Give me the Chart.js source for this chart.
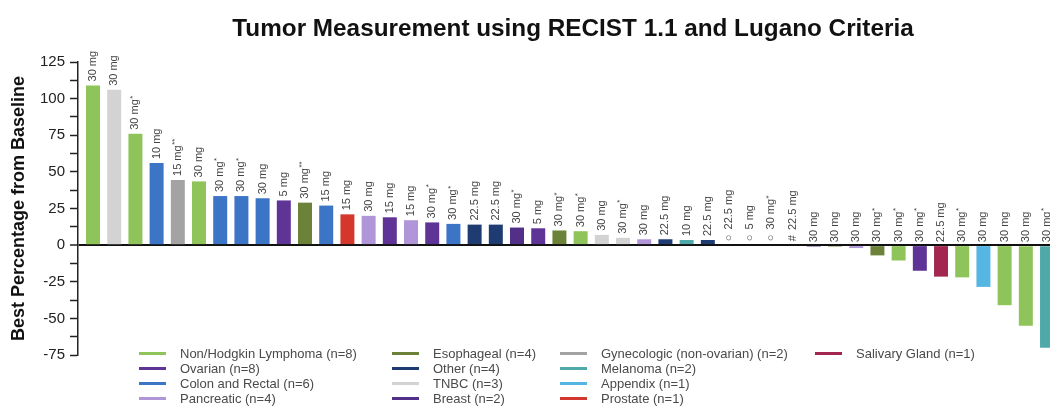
<!DOCTYPE html>
<html>
<head>
<meta charset="utf-8">
<script src="https://cdn.jsdelivr.net/npm/chart.js@4/dist/chart.umd.min.js"></script>
<style>
html,body{margin:0;padding:0;background:#fff;overflow:hidden;}
#wrap{position:relative;width:1050px;height:406px;font-family:"Liberation Sans",Arial,Helvetica,sans-serif;}
#chart{position:absolute;left:0;top:0;}
#title{position:absolute;left:573px;top:16px;transform:translateX(-50%);white-space:nowrap;font-weight:bold;font-size:24.3px;line-height:24px;color:#111;}
#legend{position:absolute;left:139px;top:346px;display:grid;grid-auto-flow:column;grid-template-rows:repeat(4,15px);grid-template-columns:253px 168px 255px auto;font-size:13px;line-height:15px;color:#4a4a4a;}
.item{display:flex;align-items:center;white-space:nowrap;}
.sw{width:27px;height:3px;margin-right:14px;flex:none;}
</style>
</head>
<body>
<div id="wrap">
  <canvas id="chart" width="1050" height="406"></canvas>
  <div id="title">Tumor Measurement using RECIST 1.1 and Lugano Criteria</div>
  <div id="legend"></div>
</div>
<script>
// ---- data ----
const categories = [
  "Non/Hodgkin Lymphoma", "Ovarian", "Colon and Rectal", "Pancreatic",
  "Esophageal", "Other", "TNBC", "Breast",
  "Gynecologic (non-ovarian)", "Melanoma", "Appendix", "Prostate",
  "Salivary Gland"
];
const legendCounts = [8, 8, 6, 4, 4, 4, 3, 2, 2, 2, 1, 1, 1];
const categoryColors = [
  "#8fc45a", "#5e3596", "#3c74c6", "#b095d8",
  "#6d8239", "#1e3b72", "#d3d3d3", "#52308a",
  "#a3a3a3", "#4fa9a9", "#55b5e3", "#d4382c",
  "#a32650"
];
// category index of each patient bar (left to right)
const barCategory = [
  0, 6, 0, 2, 8, 0, 2, 2, 2, 1,
  4, 2, 11, 3, 1, 3, 1, 2, 5, 5,
  7, 1, 4, 0, 6, 6, 3, 5, 9, 5,
  1, 1, 7, 8, 1, 4, 3, 4, 0, 1,
  12, 0, 10, 0, 0, 9
];
// best percentage change from baseline
const values = [
  109, 106, 76, 56, 44.5, 43.5, 33.5, 33.5, 32, 30.5,
  29, 27, 21, 20, 19, 17, 15.5, 14.5, 14, 14,
  12, 11.5, 10, 9.5, 7, 5, 4, 4, 3.5, 3.5,
  0, 0, 0, 0, -1, -1, -2, -7, -10.5, -17.5,
  -21.5, -22, -28.5, -41, -55, -70
];
const doses = [
  "30 mg", "30 mg", "30 mg*", "10 mg", "15 mg**", "30 mg", "30 mg*", "30 mg*", "30 mg", "5 mg",
  "30 mg**", "15 mg", "15 mg", "30 mg", "15 mg", "15 mg", "30 mg*", "30 mg*", "22.5 mg", "22.5 mg",
  "30 mg*", "5 mg", "30 mg*", "30 mg*", "30 mg", "30 mg*", "30 mg", "22.5 mg", "10 mg", "22.5 mg",
  "22.5 mg", "5 mg", "30 mg*", "22.5 mg", "30 mg", "30 mg", "30 mg", "30 mg*", "30 mg*", "30 mg*",
  "22.5 mg", "30 mg*", "30 mg", "30 mg", "30 mg", "30 mg*"
];
const markers = [
  "", "", "", "", "", "", "", "", "", "",
  "", "", "", "", "", "", "", "", "", "",
  "", "", "", "", "", "", "", "", "", "",
  "○", "○", "○", "#", "", "", "", "", "", "",
  "", "", "", "", "", ""
];
const yTickLabels = [125, 100, 75, 50, 25, 0, -25, -50, -75];
const yMin = -75, yMax = 125;

// ---- legend (HTML) ----
const legendEl = document.getElementById('legend');
categories.forEach((c, i) => {
  const d = document.createElement('div');
  d.className = 'item';
  const s = document.createElement('span');
  s.className = 'sw';
  s.style.background = categoryColors[i];
  const t = document.createElement('span');
  t.textContent = c + ' (n=' + legendCounts[i] + ')';
  d.appendChild(s); d.appendChild(t);
  legendEl.appendChild(d);
});

// ---- dose labels plugin ----
const FONT = '"Liberation Sans", Arial, Helvetica, sans-serif';
const doseLabels = {
  id: 'doseLabels',
  afterDatasetsDraw(chart) {
    const ctx = chart.ctx;
    const meta = chart.getDatasetMeta(0);
    ctx.save();
    ctx.fillStyle = '#444';
    ctx.textBaseline = 'middle';
    ctx.textAlign = 'left';
    meta.data.forEach((bar, i) => {
      const top = Math.min(bar.y, bar.base);
      ctx.save();
      ctx.translate(bar.x, top - 4);
      ctx.rotate(-Math.PI / 2);
      let off = 0;
      ctx.font = '11px ' + FONT;
      if (markers[i]) {
        ctx.fillText(markers[i], 0, 0);
        off = ctx.measureText(markers[i]).width + 5;
      }
      const m = doses[i].match(/^(.*?)(\**)$/);
      ctx.fillText(m[1], off, 0);
      if (m[2]) {
        const w = ctx.measureText(m[1]).width;
        ctx.font = '8px ' + FONT;
        ctx.fillText(m[2], off + w + 0.5, -3);
      }
      ctx.restore();
    });
    ctx.restore();
  }
};

const ctx = document.getElementById('chart').getContext('2d');
new Chart(ctx, {
  type: 'bar',
  data: {
    datasets: [{
      data: values.map((v, i) => ({ x: i + 1, y: v })),
      backgroundColor: barCategory.map(c => categoryColors[c]),
      borderWidth: 0,
      barPercentage: 0.66,
      categoryPercentage: 1
    }]
  },
  options: {
    responsive: false,
    animation: false,
    layout: { padding: { top: 62, bottom: 51, left: 0, right: 0 } },
    plugins: { legend: { display: false }, tooltip: { enabled: false }, title: { display: false } },
    scales: {
      x: {
        type: 'linear',
        min: 0.292,
        max: 46.14,
        offset: false,
        display: false
      },
      y: {
        min: yMin,
        max: yMax,
        z: 1,
        afterFit(scale) { scale.width = 78; },
        ticks: {
          stepSize: 12.5,
          autoSkip: false,
          padding: 5,
          color: '#222',
          font: { size: 15, family: FONT },
          callback: (v) => yTickLabels.includes(v) ? String(v) : ''
        },
        grid: {
          drawOnChartArea: true,
          color: (c) => (c.tick && c.tick.value === 0) ? '#111' : 'rgba(0,0,0,0)',
          lineWidth: (c) => (c.tick && c.tick.value === 0) ? 2 : 1,
          tickColor: '#222',
          tickLength: 8,
          tickWidth: 1.5
        },
        border: { display: true, color: '#222', width: 1.5 },
        title: {
          display: true,
          text: 'Best Percentage from Baseline',
          color: '#111',
          font: { size: 18, weight: 'bold', family: FONT },
          padding: { top: 8, bottom: 0 }
        }
      }
    }
  },
  plugins: [doseLabels]
});
</script>
</body>
</html>
